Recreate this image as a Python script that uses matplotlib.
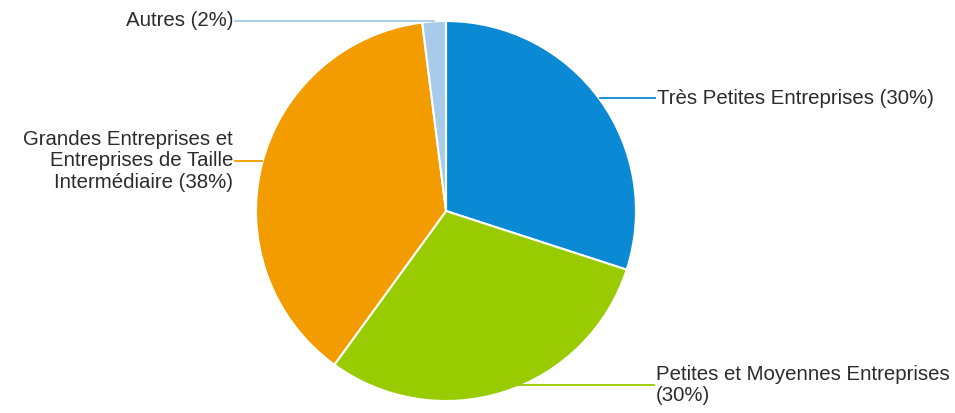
import matplotlib
matplotlib.use('Agg')
import matplotlib.pyplot as plt
import numpy as np

labels = [
    'Très Petites Entreprises (30%)',
    'Petites et Moyennes Entreprises\n(30%)',
    'Grandes Entreprises et\nEntreprises de Taille\nIntermédiaire (38%)',
    'Autres (2%)',
]
shares = [30, 30, 38, 2]
colors = ['#0a8ad4', '#99cc00', '#f29c00', '#a7cbe9']

W, H = 955, 413
cx, cy, r = 446, H - 211, 190

# label placement (screen px): x of text edge, y of text block centre, alignment
label_pos = [(657, 98, 'left'), (656, 385, 'left'), (233, 161, 'right'), (233, 21, 'right')]

fig = plt.figure(figsize=(W / 100, H / 100), dpi=100)
ax = fig.add_axes([0, 0, 1, 1])
wedges, _ = ax.pie(shares, colors=colors, startangle=90, counterclock=False,
                   center=(cx, cy), radius=r,
                   wedgeprops=dict(edgecolor='white', linewidth=1.5))
ax.set_xlim(0, W)
ax.set_ylim(0, H)
ax.set_aspect('equal')
ax.axis('off')

for w, text, (lx, ly, ha), col in zip(wedges, labels, label_pos, colors):
    mid = np.deg2rad((w.theta1 + w.theta2) / 2)
    ax_x = cx + r * np.cos(mid)
    y = H - ly
    end = lx - 2 if ha == 'left' else lx + 2
    ax.plot([ax_x, end], [y, y], color=col, lw=1.3, zorder=3)
    ax.text(lx, y, text, ha=ha, va='center', fontsize=14.7, color='#2b2b2b',
            family='Liberation Sans', linespacing=1.15, multialignment=ha)

fig.savefig('out.png', dpi=100)
